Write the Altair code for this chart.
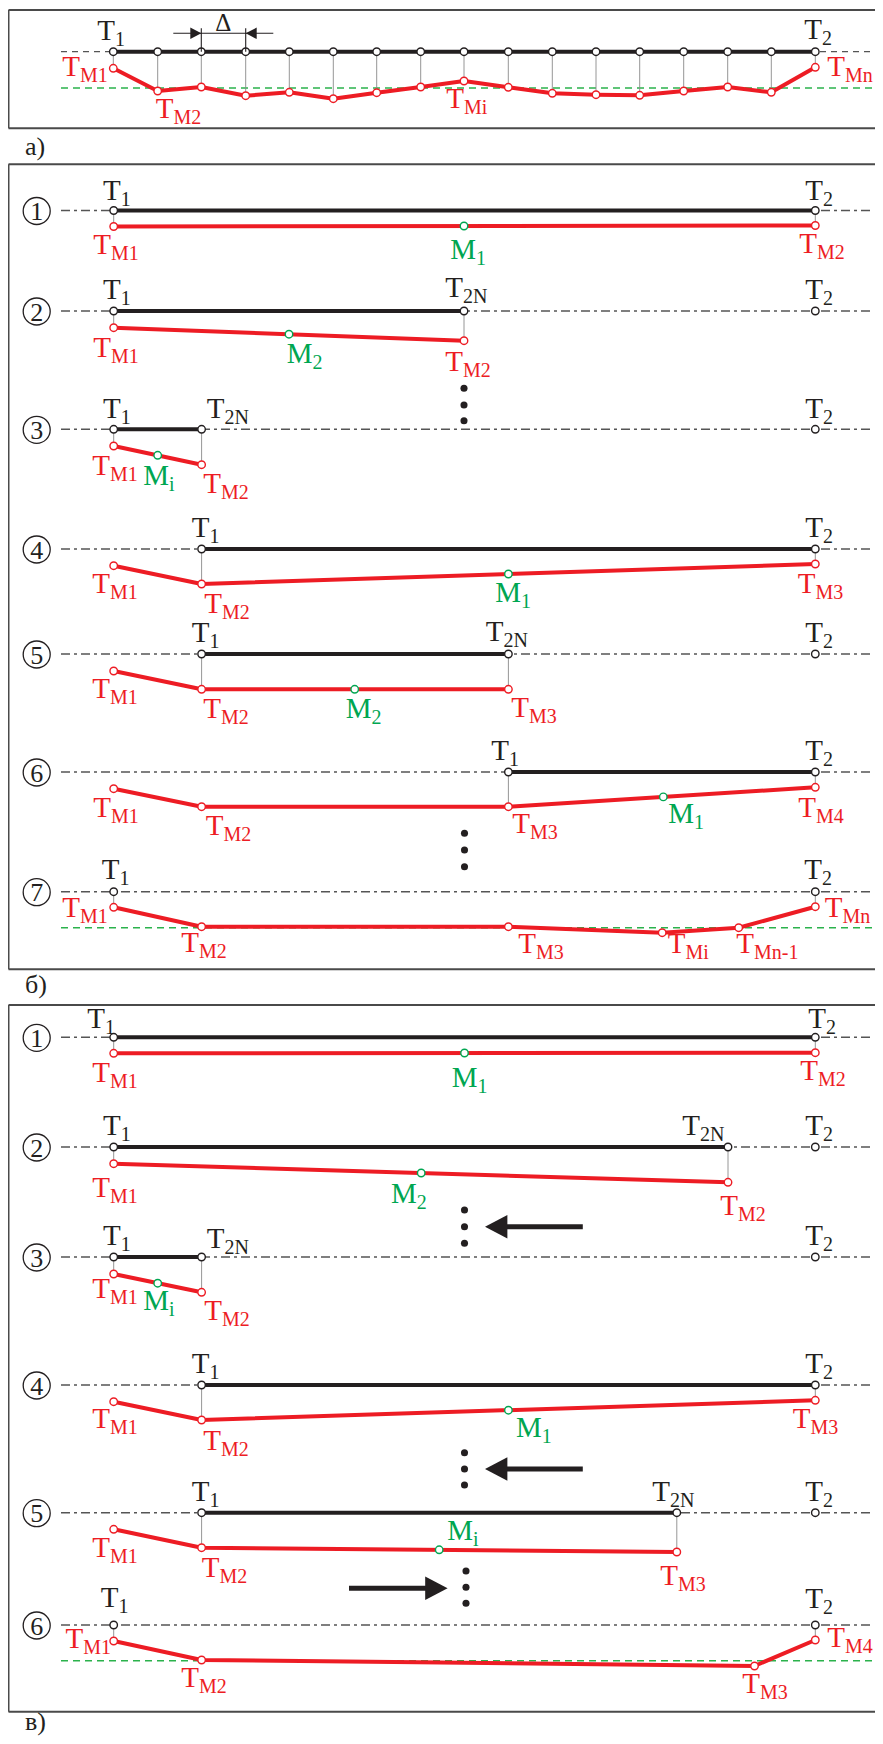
import altair as alt
import pandas as pd

# ---------------- colours / fonts ----------------
RED = "#ed1c24"
BLACK = "#231f20"
GREEN = "#00a651"
GRAYD = "#555555"
FRAME = "#4a4a4a"
FONT = "Liberation Serif"

# ---------------- data (page-pixel coordinates of the schematic) ----------------
# panel a
A_NODE_X = [113.3, 157.7, 201.3, 245.7, 289.3, 333.3, 376.7, 420.7, 464.0,
            508.3, 552.3, 596.0, 639.7, 683.7, 727.7, 771.3, 815.3]
A_RED_Y = [68.3, 91.0, 87.0, 95.7, 92.3, 98.7, 92.7, 87.0, 81.0,
           87.3, 93.3, 94.7, 95.3, 91.0, 87.0, 92.3, 67.3]

# rows: panel a, panel б (7 rows), panel в (6 rows)
ROW_Y = [51.7, 210.5, 311, 429.3, 549, 654, 772, 891.7,
         1037.3, 1147, 1257, 1385, 1512.7, 1625]
ROW_NUM = [None, "1", "2", "3", "4", "5", "6", "7", "1", "2", "3", "4", "5", "6"]
SOLID = [(113.3, 815.3), (113.7, 815.3), (113.7, 464), (113.7, 201.6),
         (201.6, 815.3), (201.6, 508.4), (508.4, 815.3), None,
         (113.7, 815.3), (113.7, 728), (113.7, 201.6), (201.6, 815.3),
         (201.6, 676.8), None]
BLACK_NODES = [A_NODE_X, [113.7, 815.3], [113.7, 464, 815.3], [113.7, 201.6, 815.3],
               [201.6, 815.3], [201.6, 508.4, 815.3], [508.4, 815.3], [113.7, 815.3],
               [113.7, 815.3], [113.7, 728, 815.3], [113.7, 201.6, 815.3],
               [201.6, 815.3], [201.6, 676.8, 815.3], [113.7, 815.3]]
RED_X = [A_NODE_X, [113.7, 815.3], [113.7, 464], [113.7, 201.6],
         [113.7, 201.6, 815.3], [113.7, 201.6, 508.4], [113.7, 201.6, 508.4, 815.3],
         [113.7, 201.6, 508.4, 662.2, 738.7, 815.3],
         [113.7, 815.3], [113.7, 728], [113.7, 201.6], [113.7, 201.6, 815.3],
         [113.7, 201.6, 676.8], [113.7, 201.6, 754.5, 815.3]]
RED_Y = [A_RED_Y, [226.5, 225.5], [327.7, 340.7], [446, 464.7],
         [565.7, 584, 564], [671, 689.3, 689.3], [788.7, 806.7, 806.7, 787.3],
         [907.3, 926.7, 926.7, 932.7, 927.7, 906.7],
         [1053.3, 1052.7], [1163.7, 1182.3], [1274, 1292.3], [1401.7, 1420, 1400.3],
         [1529.3, 1547.7, 1552], [1641, 1660, 1666, 1640]]
GREEN_X = [464, 289, 157.7, 508.4, 354.7, 663.3, 464.5, 421.2, 157.7, 508.4, 439.2]
GREEN_Y = [226, 334.2, 455.3, 574, 689.3, 796.9, 1053, 1173, 1283.2, 1410.2, 1549.8]
GREEN_DASH_Y = [88, 927.7, 1660.7]

DOT_X = [464, 464, 464, 464.5, 464.5, 464.5, 464.5, 464.5, 464.5,
         464.5, 464.5, 464.5, 466, 466, 466]
DOT_Y = [388.3, 405, 420.7, 833.3, 850, 866.7, 1210, 1226.7, 1243.3,
         1452.7, 1469, 1485, 1571, 1587.3, 1603.3]

ARROW_TIP_X = [485, 485, 447.6]
ARROW_TAIL_X = [582.8, 582.8, 349]
ARROW_Y = [1226.7, 1469, 1588.3]
ARROW_DIR = ["L", "L", "R"]

FRAME_TOP = [10, 164.3, 1005]
FRAME_BOTTOM = [128.3, 969.3, 1711.7]
PANEL_TEXT = ["а)", "б)", "в)"]
PANEL_Y = [155, 993.3, 1730]

DIM_Y = 33.3
DIM_X = [173.3, 273.3]

# labels: (main, subscript, junction x, baseline y, colour key)
LABELS = [
    # panel a
    ("T", "1", 115, 39.5, "k"), ("T", "2", 822, 38.5, "k"),
    ("T", "M1", 80, 76, "r"), ("T", "M2", 173.5, 118.3, "r"),
    ("T", "Mi", 464, 108.3, "r"), ("T", "Mn", 845, 76, "r"),
    # panel б
    ("T", "1", 120.7, 199.5, "k"), ("T", "2", 823, 199.5, "k"),
    ("T", "M1", 111, 254, "r"), ("M", "1", 476, 259, "g"), ("T", "M2", 817, 253.3, "r"),
    ("T", "1", 120.7, 299, "k"), ("T", "2N", 463, 297, "k"), ("T", "2", 823, 299, "k"),
    ("T", "M1", 111, 356.5, "r"), ("M", "2", 312.5, 363.3, "g"), ("T", "M2", 463, 370.7, "r"),
    ("T", "1", 120.7, 417.5, "k"), ("T", "2N", 224.5, 418, "k"), ("T", "2", 823, 418, "k"),
    ("T", "M1", 110, 475, "r"), ("M", "i", 169, 485, "g"), ("T", "M2", 221, 493.3, "r"),
    ("T", "1", 209.5, 537, "k"), ("T", "2", 823, 537, "k"),
    ("T", "M1", 110, 593, "r"), ("T", "M2", 222, 613.3, "r"),
    ("M", "1", 521, 601.7, "g"), ("T", "M3", 815.5, 593.3, "r"),
    ("T", "1", 209.5, 642, "k"), ("T", "2N", 503.5, 641, "k"), ("T", "2", 823, 642, "k"),
    ("T", "M1", 110, 698.3, "r"), ("T", "M2", 221, 718.3, "r"),
    ("M", "2", 371.6, 718.3, "g"), ("T", "M3", 529, 716.7, "r"),
    ("T", "1", 509, 760, "k"), ("T", "2", 823, 760, "k"),
    ("T", "M1", 111, 816.7, "r"), ("T", "M2", 223.5, 835, "r"), ("T", "M3", 530, 833.3, "r"),
    ("M", "1", 694, 823.3, "g"), ("T", "M4", 816, 816.7, "r"),
    ("T", "1", 119.5, 879.3, "k"), ("T", "2", 822, 879.3, "k"),
    ("T", "M1", 80, 916.7, "r"), ("T", "M2", 199, 951.7, "r"), ("T", "M3", 536, 953.3, "r"),
    ("T", "Mi", 685.5, 953.3, "r"), ("T", "Mn-1", 754, 953.3, "r"), ("T", "Mn", 842.5, 917.3, "r"),
    # panel в
    ("T", "1", 105, 1028.3, "k"), ("T", "2", 826, 1028.3, "k"),
    ("T", "M1", 110, 1081.7, "r"), ("M", "1", 477.5, 1087.3, "g"), ("T", "M2", 818, 1080, "r"),
    ("T", "1", 120.7, 1135, "k"), ("T", "2N", 700, 1135, "k"), ("T", "2", 823, 1135, "k"),
    ("T", "M1", 110, 1196.7, "r"), ("M", "2", 416.7, 1203.3, "g"), ("T", "M2", 738, 1215, "r"),
    ("T", "1", 120.7, 1245, "k"), ("T", "2N", 224.5, 1248, "k"), ("T", "2", 823, 1245, "k"),
    ("T", "M1", 110, 1298.3, "r"), ("M", "i", 169, 1310, "g"), ("T", "M2", 222, 1320, "r"),
    ("T", "1", 209.5, 1373, "k"), ("T", "2", 823, 1373, "k"),
    ("T", "M1", 110, 1428.3, "r"), ("T", "M2", 221, 1450, "r"),
    ("M", "1", 541.7, 1436.7, "g"), ("T", "M3", 810.5, 1428.3, "r"),
    ("T", "1", 209.5, 1500.7, "k"), ("T", "2N", 670, 1500.7, "k"), ("T", "2", 823, 1500.7, "k"),
    ("T", "M1", 110, 1556.7, "r"), ("M", "i", 473, 1540, "g"),
    ("T", "M2", 219.5, 1576.7, "r"), ("T", "M3", 678, 1585, "r"),
    ("T", "1", 118.5, 1607, "k"), ("T", "2", 823, 1608, "k"),
    ("T", "M1", 83.3, 1648.3, "r"), ("T", "M2", 199, 1686.7, "r"),
    ("T", "M3", 760, 1693.3, "r"), ("T", "M4", 845, 1646.7, "r"),
]

# ---------------- scales ----------------
X0, X1 = 8, 875
Y0, Y1 = 8, 1736
XS = alt.Scale(domain=[X0, X1], nice=False, zero=False)
YS = alt.Scale(domain=[Y1, Y0], nice=False, zero=False)


def X(f):
    return alt.X(f"{f}:Q", scale=XS, axis=None)


def Y(f):
    return alt.Y(f"{f}:Q", scale=YS, axis=None)


CSCALE = alt.Scale(domain=["k", "r", "g"], range=[BLACK, RED, GREEN])

# ---------------- tables ----------------
frame_rows = []
for t, b in zip(FRAME_TOP, FRAME_BOTTOM):
    frame_rows += [dict(x=8.5, x2=X1, y=t, y2=t), dict(x=8.5, x2=X1, y=b, y2=b),
                   dict(x=8.5, x2=8.5, y=t, y2=b)]
frames_df = pd.DataFrame(frame_rows)

dash_a_df = pd.DataFrame([dict(x=61, x2=873, y=ROW_Y[0], y2=ROW_Y[0])])
dash_b_df = pd.DataFrame([dict(x=61, x2=873, y=y, y2=y) for y in ROW_Y[1:]])
green_df = pd.DataFrame([dict(x=61, x2=X1, y=y, y2=y) for y in GREEN_DASH_Y])

solid_df = pd.DataFrame([dict(x=s[0], x2=s[1], y=y, y2=y)
                         for s, y in zip(SOLID, ROW_Y) if s is not None])

conn_rows, red_rows, node_rows = [], [], []
for i, (y, bn, rx, ry) in enumerate(zip(ROW_Y, BLACK_NODES, RED_X, RED_Y)):
    for j, (xx, yy) in enumerate(zip(rx, ry)):
        red_rows.append(dict(x=xx, y=yy, seg=i, ord=j))
        node_rows.append(dict(x=xx, y=yy, c="r"))
    for bx in bn:
        node_rows.append(dict(x=bx, y=y, c="k"))
        for xx, yy in zip(rx, ry):
            if abs(xx - bx) < 0.5:
                conn_rows.append(dict(x=bx, x2=bx, y=y, y2=yy))
for gx, gy in zip(GREEN_X, GREEN_Y):
    node_rows.append(dict(x=gx, y=gy, c="g"))
conn_df = pd.DataFrame(conn_rows)
red_df = pd.DataFrame(red_rows)
nodes_df = pd.DataFrame(node_rows)

dots_df = pd.DataFrame(dict(x=DOT_X, y=DOT_Y))

shaft_df = pd.DataFrame([dict(x=t + (18 if d == "L" else -18), x2=tail, y=y, y2=y)
                         for t, tail, y, d in zip(ARROW_TIP_X, ARROW_TAIL_X, ARROW_Y, ARROW_DIR)])
HEAD_HALF = 11.2
head_df = pd.DataFrame([dict(x=t + (HEAD_HALF if d == "L" else -HEAD_HALF), y=y, dir=d)
                        for t, y, d in zip(ARROW_TIP_X, ARROW_Y, ARROW_DIR)])

dim_tick_x = [A_NODE_X[2], A_NODE_X[3]]
dim_df = pd.DataFrame([dict(x=DIM_X[0], x2=DIM_X[1], y=DIM_Y, y2=DIM_Y)] +
                      [dict(x=tx, x2=tx, y=DIM_Y - 5, y2=ROW_Y[0]) for tx in dim_tick_x])
DIM_HALF = 5.5
dim_head_df = pd.DataFrame([dict(x=dim_tick_x[0] - DIM_HALF, y=DIM_Y, dir="R"),
                            dict(x=dim_tick_x[1] + DIM_HALF, y=DIM_Y, dir="L")])

lab_df = pd.DataFrame(LABELS, columns=["main", "sub", "jx", "base", "c"])
lab_df["subbase"] = lab_df["base"] + 6

num_df = pd.DataFrame([dict(x=36.7, y=y + 0.5, t=n) for n, y in zip(ROW_NUM, ROW_Y) if n])
panel_df = pd.DataFrame(dict(x=[25] * 3, y=PANEL_Y, t=PANEL_TEXT))
delta_df = pd.DataFrame(dict(x=[223.3], y=[30.5], t=["Δ"]))

PATH_L = "M-1,0L1,-1.05L1,1.05Z"
PATH_R = "M1,0L-1,-1.05L-1,1.05Z"
SHAPE = alt.Shape("dir:N", scale=alt.Scale(domain=["L", "R"], range=[PATH_L, PATH_R]), legend=None)


def rules(df, **kw):
    return alt.Chart(df).mark_rule(**kw).encode(x=X("x"), x2="x2", y=Y("y"), y2="y2")


layers = [
    rules(frames_df, color=FRAME, strokeWidth=2),
    rules(dash_a_df, color=GRAYD, strokeWidth=1.3, strokeDash=[6, 5]),
    rules(dash_b_df, color=GRAYD, strokeWidth=1.4, strokeDash=[9, 4, 3, 4]),
    rules(green_df, color="#2bb24c", strokeWidth=1.5, strokeDash=[7, 5]),
    rules(conn_df, color="#8a8a8a", strokeWidth=0.9),
    rules(solid_df, color=BLACK, strokeWidth=4),
    alt.Chart(red_df).mark_line(color=RED, strokeWidth=4, strokeJoin="round").encode(
        x=X("x"), y=Y("y"), detail="seg:N", order="ord:Q"),
    alt.Chart(nodes_df).mark_point(shape="circle", size=56, strokeWidth=1.4, opacity=1).encode(
        x=X("x"), y=Y("y"), fill=alt.value("white"),
        stroke=alt.Stroke("c:N", scale=CSCALE, legend=None)),
    alt.Chart(dots_df).mark_circle(size=50, color=BLACK, opacity=1).encode(x=X("x"), y=Y("y")),
    rules(shaft_df, color=BLACK, strokeWidth=5),
    alt.Chart(head_df).mark_point(filled=True, color=BLACK, opacity=1, size=(2 * HEAD_HALF) ** 2).encode(
        x=X("x"), y=Y("y"), shape=SHAPE),
    rules(dim_df, color=BLACK, strokeWidth=1.1),
    alt.Chart(dim_head_df).mark_point(filled=True, color=BLACK, opacity=1, size=(2 * DIM_HALF) ** 2).encode(
        x=X("x"), y=Y("y"), shape=SHAPE),
    alt.Chart(lab_df).mark_text(align="right", baseline="alphabetic", font=FONT, fontSize=29).encode(
        x=X("jx"), y=Y("base"), text="main:N", color=alt.Color("c:N", scale=CSCALE, legend=None)),
    alt.Chart(lab_df).mark_text(align="left", baseline="alphabetic", font=FONT, fontSize=20).encode(
        x=X("jx"), y=Y("subbase"), text="sub:N", color=alt.Color("c:N", scale=CSCALE, legend=None)),
    alt.Chart(num_df).mark_point(shape="circle", size=729, strokeWidth=1.3, color=BLACK, opacity=1).encode(
        x=X("x"), y=Y("y")),
    alt.Chart(num_df).mark_text(align="center", baseline="middle", font=FONT, fontSize=26, color=BLACK, dy=1).encode(
        x=X("x"), y=Y("y"), text="t:N"),
    alt.Chart(panel_df).mark_text(align="left", baseline="alphabetic", font=FONT, fontSize=26, color=BLACK).encode(
        x=X("x"), y=Y("y"), text="t:N"),
    alt.Chart(delta_df).mark_text(align="center", baseline="alphabetic", font=FONT, fontSize=25, color=BLACK).encode(
        x=X("x"), y=Y("y"), text="t:N"),
]

chart = alt.layer(*layers).properties(
    width=X1 - X0, height=Y1 - Y0, padding=0,
    autosize=alt.AutoSizeParams(type="none"),
).configure_view(stroke=None)

chart.save("out.html", embed_options={"renderer": "svg", "actions": False})
